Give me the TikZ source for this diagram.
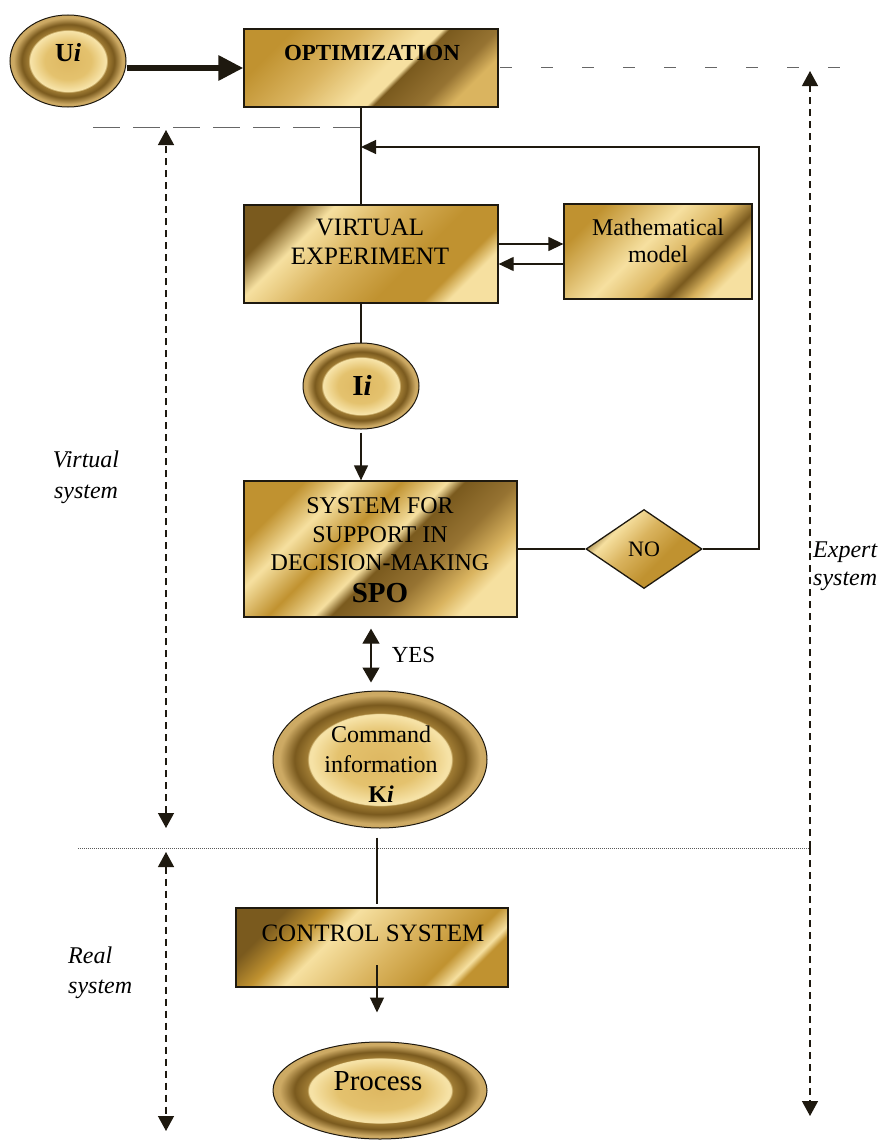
\documentclass[tikz,border=0pt]{standalone}
\usepackage{fontspec}
\setmainfont{Liberation Serif}
\usetikzlibrary{arrows.meta,shapes.geometric,calc}
\definecolor{gdark}{RGB}{122,90,30}
\definecolor{gbrown}{RGB}{150,115,50}
\definecolor{ggold}{RGB}{192,146,48}
\definecolor{gmid}{RGB}{218,180,95}
\definecolor{glight}{RGB}{246,224,160}
\definecolor{rc}{RGB}{222,184,98}
\definecolor{rm}{RGB}{228,194,110}
\definecolor{rl}{RGB}{246,226,166}
\definecolor{rring}{RGB}{160,124,52}
\definecolor{rout}{RGB}{205,170,100}
\definecolor{ink}{RGB}{30,25,15}
\pgfdeclarehorizontalshading{shOpt}{100bp}{color(0bp)=(ggold); color(25bp)=(ggold); color(40bp)=(gmid); color(53bp)=(glight); color(57bp)=(glight); color(58.5bp)=(gdark); color(69bp)=(gbrown); color(75bp)=(gmid); color(100bp)=(gmid)}
\pgfdeclarehorizontalshading{shVe}{100bp}{color(0bp)=(gdark); color(25bp)=(gdark); color(33bp)=(glight); color(45bp)=(gmid); color(60bp)=(ggold); color(70bp)=(ggold); color(75bp)=(glight); color(100bp)=(glight)}
\pgfdeclarehorizontalshading{shMm}{100bp}{color(0bp)=(ggold); color(25bp)=(ggold); color(45bp)=(glight); color(57bp)=(gmid); color(64bp)=(gdark); color(70bp)=(gmid); color(75bp)=(glight); color(100bp)=(glight)}
\pgfdeclarehorizontalshading{shSpo}{100bp}{color(0bp)=(ggold); color(25bp)=(ggold); color(33bp)=(glight); color(42bp)=(ggold); color(50bp)=(glight); color(53bp)=(gdark); color(62bp)=(gbrown); color(70bp)=(gmid); color(75bp)=(glight); color(100bp)=(glight)}
\pgfdeclarehorizontalshading{shCtrl}{100bp}{color(0bp)=(gdark); color(25bp)=(gdark); color(33bp)=(ggold); color(40bp)=(glight); color(55bp)=(gmid); color(68bp)=(ggold); color(73bp)=(glight); color(75bp)=(ggold); color(100bp)=(ggold)}
\pgfdeclareradialshading{shRing}{\pgfpoint{0bp}{0bp}}{color(0bp)=(rc); color(10bp)=(rm); color(16bp)=(rl); color(16.6bp)=(rl); color(17bp)=(rring); color(20bp)=(gdark); color(23.5bp)=(rout); color(25bp)=(rout); color(50bp)=(rout)}
\begin{document}
\begin{tikzpicture}[x=1pt,y=-1pt,
  box/.style={rectangle, draw=ink, line width=1.3pt, shade, shading angle=-45, inner sep=0pt},
  oval/.style={ellipse, draw=ink, line width=1pt, shade, shading=shRing, inner sep=0pt},
  txt/.style={font=\fontsize{25}{29}\selectfont, align=center, anchor=base, inner sep=0pt},
  lab/.style={font=\itshape\fontsize{24}{30}\selectfont, align=left, anchor=base west, inner sep=0pt},
  conn/.style={line width=1.3pt, draw=ink},
  arr/.style={conn, -{Triangle[length=15pt,width=14pt]}},
  dblarr/.style={conn, {Triangle[length=15pt,width=17pt]}-{Triangle[length=15pt,width=17pt]}},
  dasharr/.style={line width=1.3pt, draw=ink, dash pattern=on 7pt off 5pt, {Triangle[length=15pt,width=16pt]}-{Triangle[length=15pt,width=16pt]}},
  dots/.style={line width=0.9pt, draw=black!60, dash pattern=on 27pt off 13pt},
  dotsB/.style={line width=0.9pt, draw=black!60, dash pattern=on 12pt off 29pt},
  fine/.style={line width=0.9pt, draw=black!65, dash pattern=on 1pt off 1pt}]
\useasboundingbox (0,0) rectangle (888,1140);

% coordinates
\coordinate (spine) at (361,0);
\coordinate (yx) at (371,0);
\coordinate (cx) at (377,0);
\coordinate (fb) at (759,147);
\coordinate (cs) at (377,965);
\coordinate (vt) at (166,130);
\coordinate (vb) at (166,828);
\coordinate (rt) at (166,852);
\coordinate (rb) at (166,1131);
\coordinate (et) at (810,71);
\coordinate (eb) at (810,1116);
\coordinate (em) at (810,848);
\coordinate (ml) at (78,848);
\coordinate (d1a) at (93,127);
\coordinate (d1b) at (361,127);
\coordinate (d2a) at (500,67);
\coordinate (d2b) at (868,67);

% dotted separators
\draw[dots] (d1a) -- (d1b);
\draw[dotsB] (d2a) -- (d2b);
\draw[fine] (ml) -- (em);

% nodes
\node[oval, minimum width=116pt, minimum height=92pt] (ui) at (68,61) {};
\node[box, shading=shOpt, minimum width=254pt, minimum height=78pt] (opt) at (371,68) {};
\node[box, shading=shVe, minimum width=254pt, minimum height=98pt] (ve) at (371,254) {};
\node[box, shading=shMm, minimum width=188pt, minimum height=95pt] (mm) at (658,251.5) {};
\node[oval, minimum width=116pt, minimum height=86pt] (ii) at (361,386) {};
\node[box, shading=shSpo, minimum width=273pt, minimum height=136pt] (spo) at (380.5,549) {};
\node[diamond, draw=ink, line width=1.3pt, shade, shading=shVe, shading angle=-45, inner sep=0pt, minimum width=116pt, minimum height=79pt, font=\fontsize{22}{26}\selectfont] (no) at (644,549) {NO};
\node[oval, minimum width=214pt, minimum height=137pt] (cmd) at (380,759.5) {};
\node[box, shading=shCtrl, minimum width=272pt, minimum height=79pt] (ctrl) at (372,947.5) {};
\node[oval, minimum width=214pt, minimum height=97pt] (proc) at (380,1090.5) {};

% texts (multi-line nodes: base = last line)
\node[txt, font=\bfseries\fontsize{26}{30}\selectfont] (uiT) at (68,62) {U\textit{i}};
\node[txt, font=\bfseries\fontsize{23}{28}\selectfont] (optT) at (372,60) {OPTIMIZATION};
\node[txt, font=\fontsize{25}{29}\selectfont] (veT) at (370,264) {VIRTUAL\\EXPERIMENT};
\node[txt, font=\fontsize{24}{27}\selectfont] (mmT) at (658,262) {Mathematical\\model};
\node[txt, font=\bfseries\fontsize{29}{30}\selectfont] (iiT) at (362,395) {I\textit{i}};
\node[txt, font=\fontsize{24}{28.5}\selectfont] (spoT) at (380,602) {SYSTEM FOR\\SUPPORT IN\\DECISION-MAKING\\[3pt]{\bfseries\fontsize{29}{30}\selectfont SPO}};
\node[txt, font=\fontsize{23}{28}\selectfont] (yesT) at (413.5,662) {YES};
\node[txt, font=\fontsize{24}{30}\selectfont] (cmdT) at (381,802) {Command\\information\\{\bfseries K\textit{i}}};
\node[txt, font=\fontsize{25}{29}\selectfont] (ctrlT) at (373,941) {CONTROL SYSTEM};
\node[txt, font=\fontsize{29}{30}\selectfont] (procT) at (378,1090) {Process};
\node[lab, align=center, anchor=base, font=\itshape\fontsize{24}{31}\selectfont] (virtT) at (86,498) {Virtual\\system};
\node[lab, font=\itshape\fontsize{24}{28}\selectfont] (expT) at (813,585) {Expert\\system};
\node[lab] (realT) at (68,993) {Real\\system};

% connectors
\draw[conn, line width=6pt, -{Triangle[length=25pt,width=24pt]}] (ui.east |- opt.west) -- (opt.west);
\draw[conn] (opt.south -| spine) -- (ve.north -| spine);
\draw[arr] (no.east) -| (fb) -- (fb -| spine);
\draw[arr] ([yshift=10pt]ve.east) -- ([yshift=10pt]ve.east -| mm.west);
\draw[arr] ([yshift=-10pt]ve.east -| mm.west) -- ([yshift=-10pt]ve.east);
\draw[conn] (ve.south -| ii) -- (ii.north);
\draw[arr, shorten <=3pt] (ii.south) -- (spo.north -| ii);
\draw[conn] (spo.east) -- (no.west);
\draw[dblarr, shorten <=11pt, shorten >=8pt] (spo.south -| yx) -- (cmd.north -| yx);
\draw[conn, shorten <=9pt, shorten >=3pt] (cmd.south -| cx) -- (ctrl.north -| cx);
\draw[arr, shorten >=29pt] (cs) -- (cs |- proc.north);

% dashed range arrows
\draw[dasharr] (vb) -- (vt);
\draw[dasharr] (rt) -- (rb);
\draw[dasharr, -{Triangle[length=15pt,width=16pt]}] (em) -- (et);
\draw[dasharr, -{Triangle[length=15pt,width=16pt]}] (em) -- (eb);
\end{tikzpicture}
\end{document}
